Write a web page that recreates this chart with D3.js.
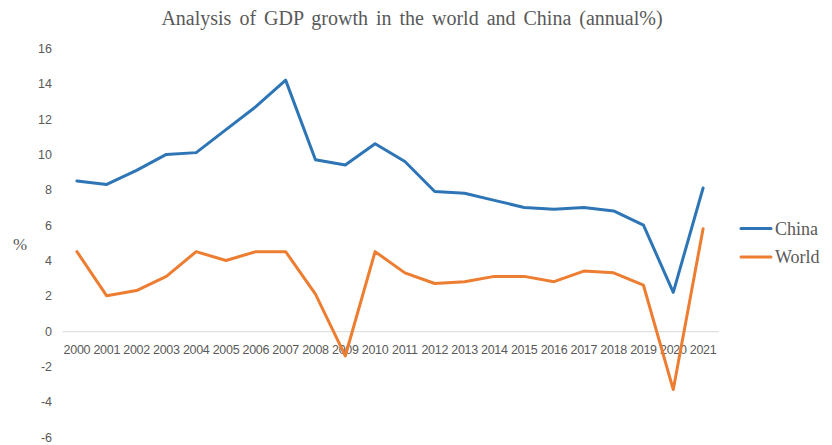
<!DOCTYPE html>
<html>
<head>
<meta charset="utf-8">
<script src="https://cdn.jsdelivr.net/npm/d3@7"></script>
<style>
  html, body { margin: 0; padding: 0; background: #ffffff; }
  svg { display: block; }
</style>
</head>
<body>
<svg id="chart" width="832" height="445"></svg>
<script>
// Annual GDP growth (%), 2000–2021
const years = ["2000","2001","2002","2003","2004","2005","2006","2007","2008","2009","2010",
               "2011","2012","2013","2014","2015","2016","2017","2018","2019","2020","2021"];
const china = [8.5, 8.3, 9.1, 10.0, 10.1, 11.4, 12.7, 14.2, 9.7, 9.4, 10.6,
               9.6, 7.9, 7.8, 7.4, 7.0, 6.9, 7.0, 6.8, 6.0, 2.2, 8.1];
const world = [4.5, 2.0, 2.3, 3.1, 4.5, 4.0, 4.5, 4.5, 2.1, -1.4, 4.5,
               3.3, 2.7, 2.8, 3.1, 3.1, 2.8, 3.4, 3.3, 2.6, -3.3, 5.8];
const yTicks = [-6, -4, -2, 0, 2, 4, 6, 8, 10, 12, 14, 16];
const seriesNames = ["China", "World"];
const seriesColors = ["#2E75B6", "#ED7D31"];

const svg = d3.select("#chart");
const textColor = "#595959";

const x = d3.scaleBand().domain(years).range([62, 718]);
const y = d3.scaleLinear().domain([-6, 16]).range([437.3, 48.3]);

// Title
svg.append("text")
  .attr("x", 412).attr("y", 25)
  .attr("text-anchor", "middle")
  .attr("font-family", "'Liberation Serif', 'Times New Roman', serif")
  .attr("font-size", 20)
  .attr("word-spacing", 3)
  .attr("fill", textColor)
  .text("Analysis of GDP growth in the world and China (annual%)");

// Y axis labels (no axis line), plain hyphen for negatives
const yAxis = d3.axisLeft(y).tickValues(yTicks).tickSize(0).tickPadding(0)
  .tickFormat(d => String(d));
svg.append("g")
  .attr("transform", "translate(52,0)")
  .call(yAxis)
  .call(g => g.select(".domain").remove())
  .call(g => g.selectAll("text")
    .attr("font-family", "'Liberation Sans', Arial, sans-serif")
    .attr("font-size", 12.5)
    .attr("fill", textColor));

// Y axis unit
svg.append("text")
  .attr("x", 20).attr("y", 250)
  .attr("text-anchor", "middle")
  .attr("font-family", "'Liberation Serif', 'Times New Roman', serif")
  .attr("font-size", 17)
  .attr("fill", textColor)
  .text("%");

// Category axis at zero
const xAxis = d3.axisBottom(x).tickSize(0).tickPadding(0);
svg.append("g")
  .attr("transform", `translate(0,${y(0)})`)
  .call(xAxis)
  .call(g => g.select(".domain")
    .attr("stroke", "#d9d9d9").attr("stroke-width", 1))
  .call(g => g.selectAll("text")
    .attr("y", 23)
    .attr("dy", 0)
    .attr("font-family", "'Liberation Sans', Arial, sans-serif")
    .attr("font-size", 12.5)
    .attr("letter-spacing", -0.3)
    .attr("fill", textColor));

// Series lines
const line = d3.line()
  .x((d, i) => x(years[i]) + x.bandwidth() / 2)
  .y(d => y(d));

[china, world].forEach((vals, k) => {
  svg.append("path")
    .datum(vals)
    .attr("fill", "none")
    .attr("stroke", seriesColors[k])
    .attr("stroke-width", 3)
    .attr("stroke-linejoin", "round")
    .attr("stroke-linecap", "round")
    .attr("d", line);
});

// Legend
const legend = svg.append("g");
seriesNames.forEach((name, k) => {
  const ly = 228.5 + k * 28.5;
  legend.append("line")
    .attr("x1", 741).attr("x2", 771)
    .attr("y1", ly).attr("y2", ly)
    .attr("stroke", seriesColors[k])
    .attr("stroke-width", 3)
    .attr("stroke-linecap", "round");
  legend.append("text")
    .attr("x", 775).attr("y", ly + 6)
    .attr("font-family", "'Liberation Serif', 'Times New Roman', serif")
    .attr("font-size", 18)
    .attr("fill", textColor)
    .text(name);
});
</script>
</body>
</html>
